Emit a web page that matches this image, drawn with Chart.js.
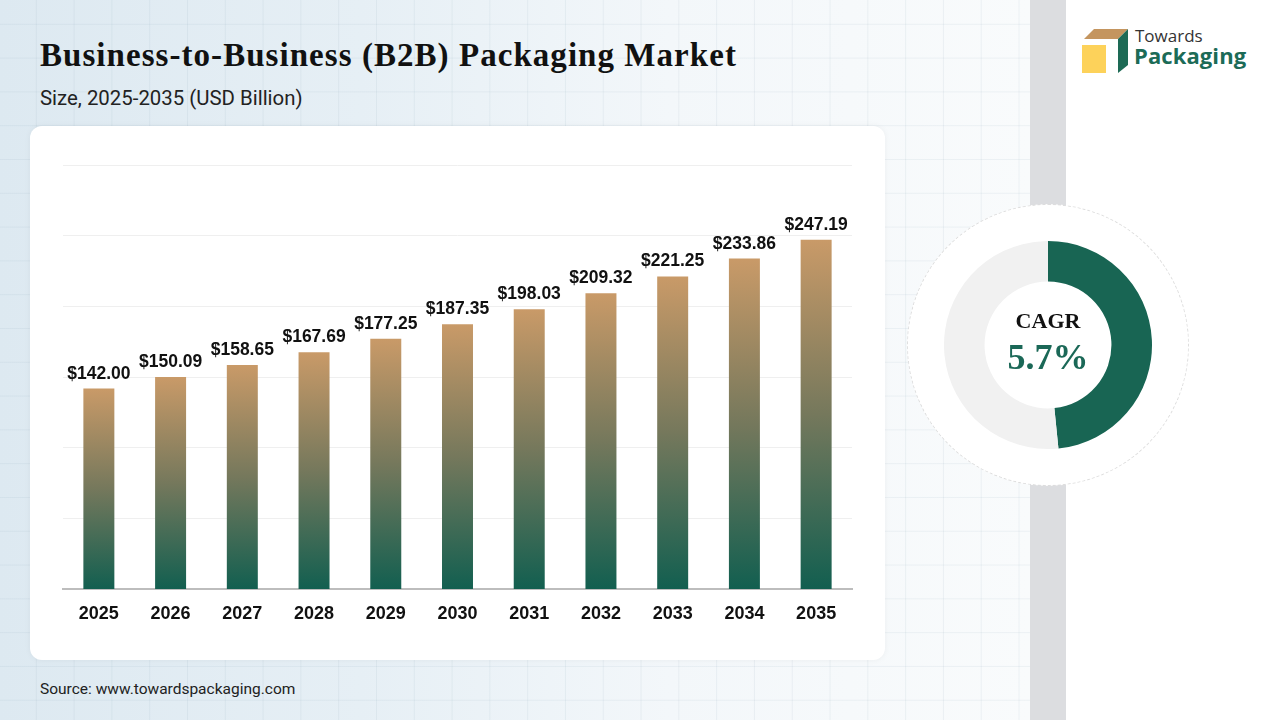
<!DOCTYPE html>
<html>
<head>
<meta charset="utf-8">
<script src="https://cdn.jsdelivr.net/npm/chart.js@4"></script>
<style>
  html,body{margin:0;padding:0;}
  body{width:1280px;height:720px;position:relative;overflow:hidden;font-family:"Liberation Sans",Arial,sans-serif;
    background:#fff;}
  #bg{position:absolute;left:0;top:0;width:1030px;height:720px;
    background-image:
      linear-gradient(rgba(120,150,170,0.10) 1px, transparent 1px),
      linear-gradient(90deg, rgba(120,150,170,0.10) 1px, transparent 1px),
      linear-gradient(90deg,#dde9f1 0%,#e6eff5 35%,#f3f7fa 65%,#f9fbfc 100%);
    background-size:37.8px 33.8px,37.8px 33.8px,100% 100%;
    background-position:-2px -10px,-2px -10px,0 0;}
  #strip{position:absolute;left:1030px;top:0;width:36px;height:720px;background:#dcdde0;}
  #right{position:absolute;left:1066px;top:0;width:214px;height:720px;background:#fff;}
  h1{position:absolute;left:40px;top:37px;margin:0;font-family:"Liberation Serif",serif;font-weight:bold;font-size:33px;color:#111;letter-spacing:1.05px;white-space:nowrap;}
  #sub{position:absolute;left:40px;top:86px;font-family:Roboto,sans-serif;font-size:20.4px;color:#222;white-space:nowrap;}
  #card{position:absolute;left:30px;top:126px;width:855px;height:534px;background:#fff;border-radius:12px;box-shadow:0 0 6px rgba(0,0,0,0.05);}
  #barWrap{position:absolute;left:30px;top:126px;width:855px;height:534px;}
  #src{position:absolute;left:40px;top:680px;font-family:Roboto,sans-serif;font-size:15.5px;color:#222;}
  #ring{position:absolute;left:907px;top:204px;width:280px;height:280px;border-radius:50%;background:#fff;border:1px dashed #dedede;}
  #donutWrap{position:absolute;left:944px;top:241px;width:208px;height:208px;}
  #cagr{position:absolute;left:948px;top:308px;width:200px;text-align:center;font-family:"Liberation Serif",serif;font-weight:bold;font-size:22px;color:#111;}
  #pct{position:absolute;left:948px;top:336px;width:200px;text-align:center;font-family:"Liberation Serif",serif;font-weight:bold;font-size:36px;color:#1b6857;}
  #logo{position:absolute;left:1082px;top:29px;}
  #tw{position:absolute;left:1135px;top:24px;font-family:"Open Sans",sans-serif;font-size:17px;color:#333;}
  #pk{position:absolute;left:1134px;top:40px;font-family:"Open Sans",sans-serif;font-weight:bold;font-size:22px;color:#1c6b57;letter-spacing:0.1px;}
</style>
</head>
<body>
<div id="bg"></div>
<div id="strip"></div>
<div id="right"></div>
<h1>Business-to-Business (B2B) Packaging Market</h1>
<div id="sub">Size, 2025-2035 (USD Billion)</div>
<div id="card"></div>
<div id="barWrap"><canvas id="bar"></canvas></div>
<div id="src">Source: www.towardspackaging.com</div>
<div id="ring"></div>
<div id="donutWrap"><canvas id="donut"></canvas></div>
<div id="cagr">CAGR</div>
<div id="pct">5.7%</div>
<svg id="logo" width="46" height="46" viewBox="0 0 46 46">
  <polygon points="12,0 46,0 36,10 2,10" fill="#c4955f"/>
  <polygon points="36,10 46,0 46,36 36,44" fill="#1d6a55"/>
  <rect x="0" y="16" width="24" height="28" fill="#fdd25a"/>
</svg>
<div id="tw">Towards</div>
<div id="pk">Packaging</div>
<script>
const categories = ["2025","2026","2027","2028","2029","2030","2031","2032","2033","2034","2035"];
const marketSize = [142.00,150.09,158.65,167.69,177.25,187.35,198.03,209.32,221.25,233.86,247.19];
const yTicks = {min:0, max:300, step:50};
const cagrLabel = "CAGR";
const cagrValue = "5.7%";
const donutShare = [48.4, 51.6];

Chart.defaults.animation = false;

const labelPlugin = {
  id:'barLabels',
  afterDatasetsDraw(chart){
    const c = chart.ctx;
    const meta = chart.getDatasetMeta(0);
    c.save();
    c.font = 'bold 17.5px "Liberation Sans", Arial, sans-serif';
    c.fillStyle = '#111';
    c.textAlign = 'center';
    c.textBaseline = 'alphabetic';
    meta.data.forEach((el,i)=>{
      c.fillText('$' + marketSize[i].toFixed(2), el.x, el.y - 10);
    });
    c.restore();
  }
};

new Chart(document.getElementById('bar'), {
  type:'bar',
  data:{
    labels:categories,
    datasets:[{
      data:marketSize,
      backgroundColor:(ctx)=>{
        const chart = ctx.chart;
        if(!chart.chartArea || ctx.raw === undefined) return '#c99a68';
        const y = chart.scales.y;
        const top = y.getPixelForValue(ctx.raw);
        const bottom = y.getPixelForValue(0);
        const g = chart.ctx.createLinearGradient(0, top, 0, bottom);
        g.addColorStop(0, '#c99a68');
        g.addColorStop(0.5, '#75785c');
        g.addColorStop(1, '#125f50');
        return g;
      },
      borderWidth:0,
      barPercentage:0.54,
      categoryPercentage:0.8
    }]
  },
  options:{
    responsive:true,
    maintainAspectRatio:false,
    layout:{padding:{left:33,right:33,top:39,bottom:29}},
    plugins:{legend:{display:false},tooltip:{enabled:false}},
    scales:{
      x:{
        grid:{display:false},
        border:{color:'#bdbdbd',width:2},
        ticks:{color:'#111',font:{family:'"Liberation Sans", Arial, sans-serif',size:18,weight:'bold'},padding:6}
      },
      y:{
        min:yTicks.min,max:yTicks.max,
        ticks:{display:false,stepSize:yTicks.step},
        grid:{color:'#efefef',drawTicks:false},
        border:{display:false}
      }
    }
  },
  plugins:[labelPlugin]
});

new Chart(document.getElementById('donut'), {
  type:'doughnut',
  data:{labels:['CAGR','Rest'],datasets:[{data:donutShare,backgroundColor:['#186553','#f1f1f1'],borderWidth:0}]},
  options:{
    responsive:true,maintainAspectRatio:false,cutout:'61%',
    layout:{padding:0},
    plugins:{legend:{display:false},tooltip:{enabled:false}}
  }
});
document.getElementById('cagr').textContent = cagrLabel;
document.getElementById('pct').textContent = cagrValue;
</script>
</body>
</html>
